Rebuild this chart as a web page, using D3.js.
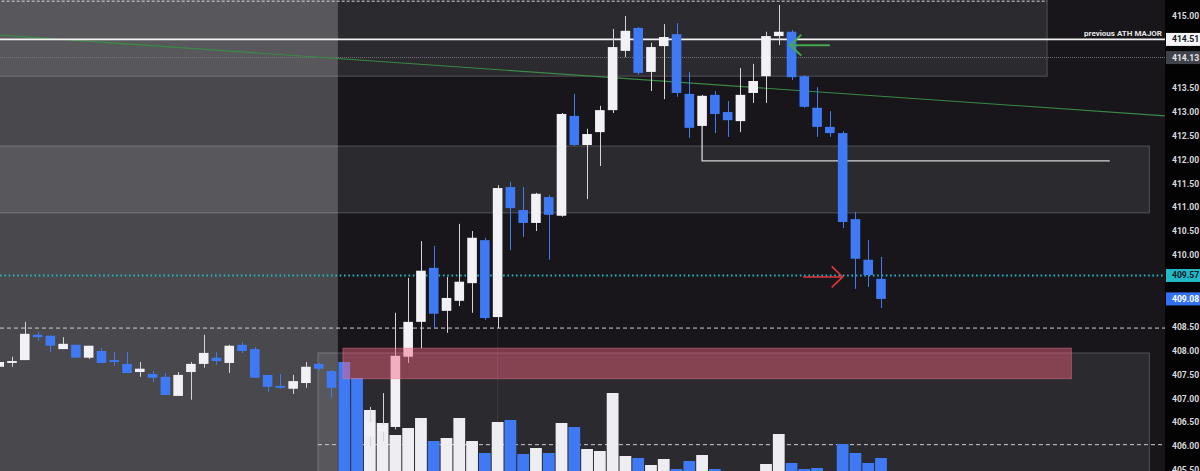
<!DOCTYPE html>
<html><head><meta charset="utf-8">
<script src="https://cdn.jsdelivr.net/npm/d3@7"></script>
<style>html,body{margin:0;padding:0;background:#000;overflow:hidden}</style>
</head><body><svg id="c" width="1200" height="471"></svg>
<script>
// ---------- DATA ----------
const idx = d3.range(-1, 69);
const open = [407.66,407.74,407.80,408.33,408.31,408.03,408.12,407.85,407.99,407.80,407.72,407.55,407.51,407.45,407.05,407.55,407.72,407.85,407.74,408.12,408.03,407.49,407.26,407.20,407.32,407.72,407.57,
  407.22,406.76,406.20,406.30,406.40,407.87,408.60,409.73,408.83,409.04,409.41,410.31,408.70,411.42,410.94,410.67,411.21,410.82,412.91,412.30,412.57,413.03,414.27,414.75,413.83,414.37,414.62,413.37,412.70,413.35,412.99,412.80,413.39,413.74,414.58,414.67,413.74,413.08,412.68,412.55,410.75,409.90,409.50];
const high = [407.78,407.87,408.60,408.39,408.31,408.28,408.12,408.10,408.05,407.97,407.97,407.76,407.57,407.53,407.55,407.76,408.33,407.97,408.12,408.18,408.07,407.49,407.51,407.49,407.76,407.74,407.59,
  407.30,406.80,406.82,407.11,408.79,409.52,410.29,410.19,409.54,410.65,410.50,410.36,411.46,411.53,411.42,411.30,411.25,412.97,413.37,412.64,413.12,414.73,415.00,414.77,414.44,414.83,414.85,413.83,413.35,413.43,413.22,413.91,414.00,414.67,415.23,414.71,413.76,413.51,413.01,412.59,410.90,410.31,409.96];
const low = [407.64,407.66,407.80,408.20,407.97,408.03,407.85,407.82,407.74,407.68,407.53,407.45,407.34,407.07,407.05,406.97,407.64,407.70,407.53,407.95,407.43,407.13,407.20,407.09,407.22,407.59,407.01,
  406.60,406.00,406.00,406.10,406.35,407.74,408.05,408.47,408.37,408.93,408.79,408.64,408.47,410.10,410.38,410.50,409.90,410.80,412.28,411.17,411.86,412.97,414.14,413.77,413.43,413.26,413.31,412.45,412.68,412.55,412.47,412.57,413.18,413.18,414.39,413.66,413.08,412.47,412.47,410.56,409.29,409.33,408.89];
const close = [407.76,407.78,408.35,408.28,408.10,408.14,407.85,408.10,407.74,407.76,407.53,407.62,407.43,407.07,407.49,407.72,407.95,407.78,408.10,407.99,407.43,407.24,407.22,407.36,407.66,407.62,407.22,
  406.76,406.20,406.50,406.45,407.89,408.60,409.67,408.77,409.10,409.44,410.36,408.68,411.40,410.98,410.67,411.28,410.84,412.95,412.30,412.53,413.03,414.35,414.69,413.81,414.35,414.56,413.39,412.66,413.33,412.95,412.82,413.35,413.64,414.58,414.67,413.72,413.10,412.68,412.55,410.69,409.92,409.58,409.08];
const volume = [null,null,null,null,null,null,null,null,null,null,null,null,null,null,null,null,null,null,null,null,null,null,null,null,null,null,null,
  1130,970,650,520,400,470,570,340,370,570,340,220,530,550,210,270,220,520,480,260,240,820,190,170,100,160,60,140,200,60,30,30,20,110,410,120,60,70,30,310,220,120,170];
const priceTicks = [405.5,406,406.5,407,407.5,408,408.5,410,410.5,411,411.5,412,412.5,413,413.5,415];
const priceLabels = [
  {price:414.51, bg:"#f4f4f6", fg:"#131722"},
  {price:414.13, bg:"#40434c", fg:"#e6e6e6"},
  {price:409.57, bg:"#22b8c8", fg:"#0b1a1c"},
  {price:409.08, bg:"#3572f2", fg:"#ffffff"}
];
// zones: [i0, i1, pTop, pBottom]
const zoneTop = [-1.2, 81.0, 415.35, 413.74];
const zoneMid = [-1.2, 89.0, 412.28, 410.88];
const zoneLow = [23.94, 89.0, 407.95, 405.2];
const zoneRed = [25.9, 82.9, 408.05, 407.41];
const shadeEnd = 25.5;
const athLevel = 414.51, athText = "previous ATH MAJOR";
const dottedLevel = 414.13;
const cyanLevel = 409.57;
const dashLevels = [{p:408.47, i0:-1.2}, {p:406.03, i0:23.94}];
const topDash = {p:415.31, i0:-1.2, i1:81.0};
const trend = [[-0.94, 414.60], [90.2, 412.91]];
const structure = [[54, 412.70], [54, 411.97], [85.9, 411.97]];
const arrows = [
  {from:[64.0, 414.39], to:[60.9, 414.39], color:"#45a84c", w:2},
  {from:[61.9, 409.54], to:[65.0, 409.54], color:"#e0363c", w:1.6}
];

// ---------- DRAW ----------
const W = 1200, H = 471, PR = 1165;
const svg = d3.select("#c");
const x = d3.scaleLinear().domain([0, 68]).range([12, 881]);
const y = d3.scaleLinear().domain([405.5, 415]).range([470, 16]);
const vy = d3.scaleLinear().domain([0, 1200]).range([475, 355]);
const step = x(1) - x(0);

svg.append("rect").attr("x",0).attr("y",0).attr("width",W).attr("height",H).attr("fill","#000");
const g = svg.append("g");
g.append("rect").attr("x",0).attr("y",0).attr("width",PR).attr("height",H).attr("fill","#18161b");
g.append("rect").attr("x",0).attr("y",0).attr("width",x(shadeEnd)).attr("height",H).attr("fill","rgba(255,255,255,0.215)");

function zone(z, fill, stroke){
  g.append("rect").attr("x",x(z[0])).attr("y",y(z[2])).attr("width",x(z[1])-x(z[0])).attr("height",y(z[3])-y(z[2]))
   .attr("fill",fill).attr("stroke",stroke).attr("stroke-width",1);
}
zone(zoneTop, "rgba(255,255,255,0.085)", "rgba(255,255,255,0.22)");
zone(zoneMid, "rgba(255,255,255,0.085)", "rgba(255,255,255,0.22)");
zone(zoneLow, "rgba(255,255,255,0.085)", "rgba(255,255,255,0.22)");

g.append("line").attr("x1",x(topDash.i0)).attr("x2",x(topDash.i1)).attr("y1",y(topDash.p)).attr("y2",y(topDash.p))
  .attr("stroke","#d8d8d8").attr("stroke-dasharray","3,2").attr("stroke-width",1);
g.append("line").attr("x1",0).attr("x2",PR).attr("y1",y(dottedLevel)).attr("y2",y(dottedLevel))
  .attr("stroke","#77757a").attr("stroke-dasharray","1,1").attr("stroke-width",1);
dashLevels.forEach(d=>{
  g.append("line").attr("x1",Math.max(0,x(d.i0))).attr("x2",PR).attr("y1",y(d.p)).attr("y2",y(d.p))
   .attr("stroke","#cfcfcf").attr("stroke-dasharray","4,3").attr("stroke-width",1);
});
g.append("line").attr("x1",x(38)).attr("x2",x(38)).attr("y1",y(408.47)).attr("y2",H).attr("stroke","rgba(255,255,255,0.07)");

const vdata = idx.map((i,k)=>({i, v:volume[k], up: close[k] >= open[k]})).filter(d=>d.v!=null);
g.selectAll(".vol").data(vdata).join("rect").attr("class","vol")
  .attr("x",d=>x(d.i)-step/2+0.5).attr("width",step-1)
  .attr("y",d=>vy(d.v)).attr("height",d=>vy(0)-vy(d.v))
  .attr("fill",d=>d.up?"#eeedf2":"#3f7af4");

g.append("line").attr("x1",x(trend[0][0])).attr("y1",y(trend[0][1])).attr("x2",x(trend[1][0])).attr("y2",y(trend[1][1]))
  .attr("stroke","#3a8a46").attr("stroke-width",1.1);

g.append("line").attr("x1",0).attr("x2",PR).attr("y1",y(athLevel)).attr("y2",y(athLevel)).attr("stroke","#f2f2f2").attr("stroke-width",1.6);
g.append("text").attr("x",PR-3).attr("y",y(athLevel)-3).attr("text-anchor","end")
  .attr("font-family","Roboto, 'Noto Sans', sans-serif").attr("font-size",8).attr("font-weight","bold").attr("fill","#e6e6e6").text(athText);

g.append("line").attr("x1",0).attr("x2",PR).attr("y1",y(cyanLevel)).attr("y2",y(cyanLevel))
  .attr("stroke","#27b5c5").attr("stroke-width",2).attr("stroke-dasharray","1.6,2.7");

g.append("path").attr("d",d3.line().x(d=>x(d[0])).y(d=>y(d[1]))(structure))
  .attr("fill","none").attr("stroke","#d6d6d6").attr("stroke-width",1.3);

const cdata = idx.map((i,k)=>({i,o:open[k],h:high[k],l:low[k],c:close[k]}));
const cg = g.append("g");
const bw = 9.6;
cg.selectAll(".wick").data(cdata).join("line").attr("class","wick")
  .attr("x1",d=>Math.round(x(d.i))+0.5).attr("x2",d=>Math.round(x(d.i))+0.5)
  .attr("y1",d=>y(d.h)).attr("y2",d=>y(d.l))
  .attr("stroke",d=>d.c>=d.o?"#d4d3d8":"#3f7af4").attr("stroke-width",1);
cg.selectAll(".body").data(cdata).join("rect").attr("class","body")
  .attr("x",d=>x(d.i)-bw/2).attr("width",bw)
  .attr("y",d=>y(Math.max(d.o,d.c))).attr("height",d=>Math.max(1.5, Math.abs(y(d.o)-y(d.c))))
  .attr("fill",d=>d.c>=d.o?"#f2f1f5":"#3f7af4");

g.append("rect").attr("x",x(zoneRed[0])).attr("y",y(zoneRed[2])).attr("width",x(zoneRed[1])-x(zoneRed[0])).attr("height",y(zoneRed[3])-y(zoneRed[2]))
  .attr("fill","rgba(240,99,127,0.46)").attr("stroke","rgba(240,120,140,0.45)").attr("stroke-width",1);

arrows.forEach(a=>{
  const x1=x(a.from[0]), y1=y(a.from[1]), x2=x(a.to[0]), y2=y(a.to[1]);
  const dir = Math.sign(x2-x1);
  g.append("line").attr("x1",x1).attr("y1",y1).attr("x2",x2).attr("y2",y2).attr("stroke",a.color).attr("stroke-width",a.w);
  g.append("path").attr("d",`M${x2-dir*11},${y2-10.5}L${x2},${y2}L${x2-dir*11},${y2+10.5}`)
   .attr("fill","none").attr("stroke",a.color).attr("stroke-width",a.w);
});

const ax = svg.append("g").attr("transform",`translate(${PR},0)`);
ax.append("rect").attr("x",0).attr("y",0).attr("width",W-PR).attr("height",H).attr("fill","#030303");
const axis = d3.axisRight(y).tickValues(priceTicks).tickSize(0).tickPadding(6).tickFormat(d3.format(".2f"));
const axg = ax.append("g").call(axis);
axg.select(".domain").remove();
axg.selectAll("text").attr("font-family","Roboto, 'Noto Sans', sans-serif").attr("font-size",8.6)
  .attr("font-weight","bold").attr("fill","#d8d8dc").attr("x",7);
priceLabels.forEach(p=>{
  const yy = y(p.price);
  ax.append("rect").attr("x",1).attr("y",yy-6.5).attr("width",W-PR-1).attr("height",13).attr("fill",p.bg);
  ax.append("text").attr("x",7).attr("y",yy).attr("dy","0.34em").attr("font-family","Roboto, 'Noto Sans', sans-serif")
    .attr("font-size",8.6).attr("font-weight","bold").attr("fill",p.fg).text(p.price.toFixed(2));
});
</script></body></html>
